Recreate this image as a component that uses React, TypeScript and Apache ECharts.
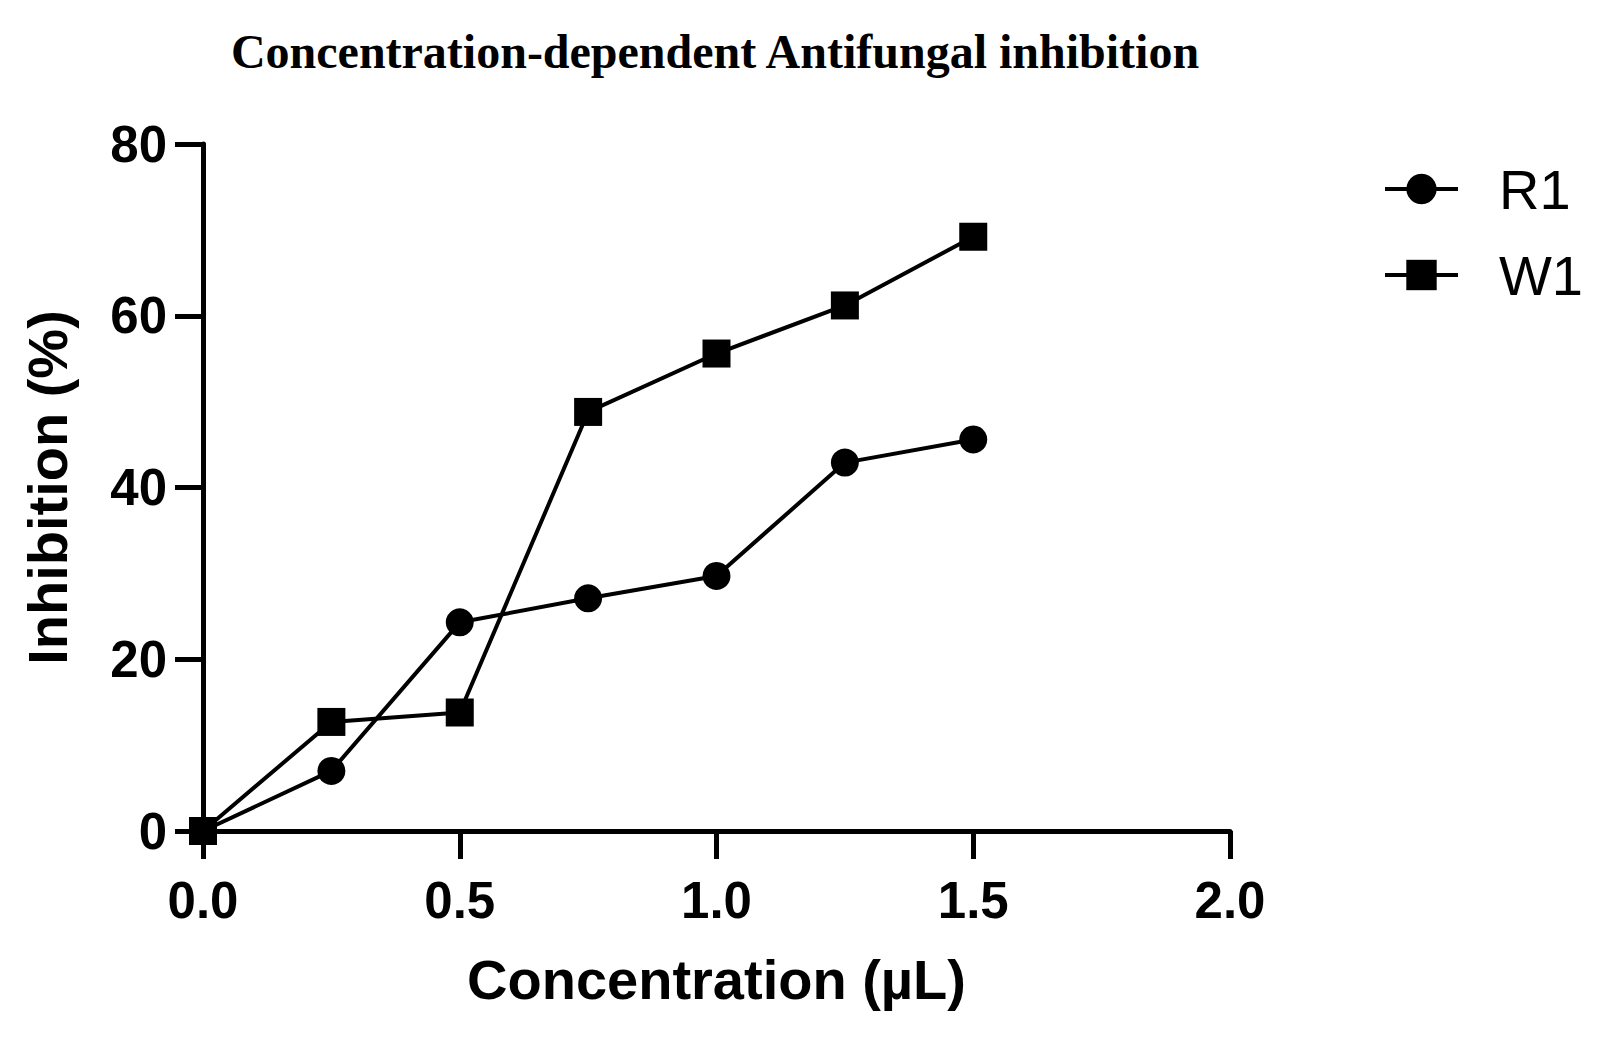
import React, { useEffect, useRef } from "react";
import * as echarts from "echarts";

const concentrations = [0, 0.25, 0.5, 0.75, 1.0, 1.25, 1.5];
const r1Values = [0, 7.0, 24.3, 27.1, 29.7, 42.9, 45.6];
const w1Values = [0, 12.7, 13.8, 48.8, 55.6, 61.2, 69.2];
const seriesNames = ["R1", "W1"];
const titleText = "Concentration-dependent Antifungal inhibition";
const xTitle = "Concentration (µL)";
const yTitle = "Inhibition (%)";

export default function App() {
  const ref = useRef<HTMLDivElement>(null);
  useEffect(() => {
    if (!ref.current) return;
    const chart = echarts.init(ref.current, undefined, { renderer: "svg" });
    const sans = "Liberation Sans, Arial, sans-serif";
    const toPairs = (vals: number[]) => concentrations.map((c, i) => [c, vals[i]]);
    chart.setOption({
      animation: false,
      backgroundColor: "#ffffff",
      title: {
        text: titleText,
        left: 710,
        textAlign: "center",
        top: 22,
        textStyle: {
          fontFamily: "Liberation Serif, Times New Roman, serif",
          fontWeight: "bold",
          fontSize: 48,
          color: "#000",
        },
      },
      legend: {
        orient: "vertical",
        left: 1378,
        top: 156,
        itemWidth: 73,
        itemHeight: 38,
        itemGap: 30,
        lineStyle: { width: 4, color: "#000" },
        textStyle: { fontFamily: sans, fontSize: 56, color: "#000", padding: [0, 0, 0, 36] },
        data: seriesNames,
      },
      grid: { left: 203, right: 376, top: 144, bottom: 208, containLabel: false },
      xAxis: {
        type: "value",
        min: 0,
        max: 2,
        interval: 0.5,
        name: xTitle,
        nameLocation: "middle",
        nameGap: 120,
        nameTextStyle: { fontFamily: sans, fontWeight: "bold", fontSize: 56, color: "#000" },
        axisLine: { show: true, lineStyle: { color: "#000", width: 5 } },
        axisTick: { show: true, length: 28, lineStyle: { color: "#000", width: 5 } },
        axisLabel: {
          margin: 44,
          fontFamily: sans,
          fontWeight: "bold",
          fontSize: 51,
          color: "#000",
          formatter: (v: number) => v.toFixed(1),
        },
        splitLine: { show: false },
      },
      yAxis: {
        type: "value",
        min: 0,
        max: 80,
        interval: 20,
        name: yTitle,
        nameLocation: "middle",
        nameGap: 128,
        nameRotate: 90,
        nameTextStyle: { fontFamily: sans, fontWeight: "bold", fontSize: 56, color: "#000" },
        axisLine: { show: true, lineStyle: { color: "#000", width: 5 } },
        axisTick: { show: true, length: 28, lineStyle: { color: "#000", width: 5 } },
        axisLabel: {
          margin: 36,
          fontFamily: sans,
          fontWeight: "bold",
          fontSize: 51,
          color: "#000",
        },
        splitLine: { show: false },
      },
      series: [
        {
          name: seriesNames[0],
          type: "line",
          data: toPairs(r1Values),
          symbol: "circle",
          symbolSize: 28,
          clip: false,
          lineStyle: { color: "#000", width: 4 },
          itemStyle: { color: "#000" },
        },
        {
          name: seriesNames[1],
          type: "line",
          data: toPairs(w1Values),
          symbol: "rect",
          symbolSize: 28,
          clip: false,
          lineStyle: { color: "#000", width: 4 },
          itemStyle: { color: "#000" },
        },
      ],
    });
    return () => chart.dispose();
  }, []);
  return (
    <div
      ref={ref}
      style={{ position: "fixed", left: 0, top: 0, width: 1606, height: 1039, background: "#fff" }}
    />
  );
}
